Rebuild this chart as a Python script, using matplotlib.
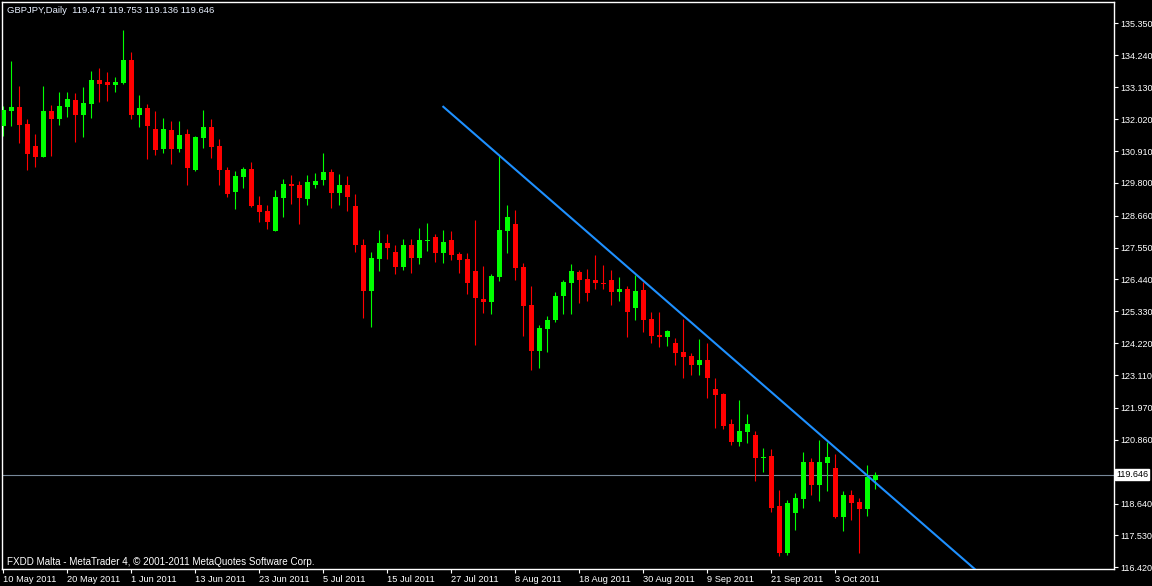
import numpy as np
import matplotlib
matplotlib.use("Agg")
import matplotlib.pyplot as plt
import matplotlib.transforms as mtransforms

plt.rcParams['font.family'] = ['Liberation Sans', 'DejaVu Sans']

opens = [131.78, 132.31, 132.43, 131.85, 131.08, 130.71, 132.30, 132.03, 132.45, 132.69,
         132.17, 132.56, 133.38, 133.31, 133.22, 133.28, 134.08, 132.17, 132.41, 131.68,
         130.99, 131.64, 130.99, 131.50, 130.26, 131.37, 131.75, 131.08, 130.25, 129.49,
         130.02, 130.28, 129.03, 128.82, 128.14, 129.29, 129.76, 129.73, 129.25, 129.74,
         129.91, 130.18, 129.46, 129.73, 129.00, 127.65, 126.05, 127.16, 127.72, 127.39,
         126.88, 127.64, 127.20, 127.79, 127.92, 127.37, 127.81, 127.33, 127.15, 126.73,
         125.76, 125.67, 126.54, 128.14, 128.37, 126.87, 125.55, 123.96, 124.73, 125.04,
         125.87, 126.33, 126.71, 126.46, 126.42, 126.32, 126.42, 126.01, 126.11, 125.46,
         126.07, 125.06, 124.51, 124.45, 124.23, 123.91, 123.78, 123.47, 123.64, 122.63,
         122.45, 121.41, 120.79, 121.14, 121.03, 120.23, 120.29, 118.56, 116.93, 118.32,
         118.81, 120.09, 119.30, 120.06, 119.88, 118.18, 118.95, 118.70, 118.46, 119.471]
highs = [132.48, 134.04, 133.17, 132.02, 131.50, 133.17, 132.51, 132.96, 132.96, 132.93,
         133.14, 133.69, 133.80, 133.66, 133.49, 135.12, 134.36, 132.86, 132.55, 132.30,
         132.06, 131.95, 131.95, 131.68, 131.43, 132.34, 132.02, 131.33, 130.35, 130.21,
         130.35, 130.53, 129.34, 129.03, 129.55, 129.94, 130.08, 129.87, 130.08, 130.14,
         130.84, 130.28, 130.11, 130.04, 129.41, 127.86, 127.41, 128.17, 128.03, 127.64,
         127.85, 127.85, 128.23, 128.40, 128.03, 128.16, 128.13, 127.39, 127.36, 128.51,
         126.91, 126.63, 130.77, 129.03, 128.86, 127.01, 126.21, 124.86, 125.17, 126.01,
         126.43, 126.99, 126.78, 126.80, 127.29, 126.94, 126.77, 126.52, 126.21, 126.59,
         126.35, 125.32, 125.32, 124.68, 124.40, 125.06, 123.88, 124.37, 124.23, 123.01,
         122.49, 121.58, 122.24, 121.76, 121.16, 120.57, 120.54, 119.11, 118.76, 119.01,
         120.43, 120.22, 120.85, 120.78, 120.36, 119.09, 119.12, 118.84, 119.99, 119.753]
lows = [131.43, 131.78, 131.20, 130.25, 130.36, 130.70, 130.75, 131.83, 132.10, 131.23,
        131.41, 132.07, 132.63, 132.66, 132.97, 133.25, 132.03, 131.76, 130.64, 130.78,
        130.85, 130.47, 130.89, 129.74, 130.22, 131.03, 130.68, 129.74, 129.32, 128.90,
        129.63, 128.97, 128.45, 128.21, 128.13, 128.62, 129.08, 128.38, 129.04, 129.63,
        129.74, 128.94, 129.04, 128.83, 127.41, 125.11, 124.80, 126.74, 127.16, 126.64,
        126.78, 126.67, 126.99, 127.44, 127.06, 127.02, 127.13, 126.67, 125.94, 124.17,
        125.28, 125.25, 126.40, 127.37, 126.43, 124.48, 123.29, 123.37, 123.92, 124.97,
        125.25, 125.25, 125.63, 125.70, 126.12, 126.12, 125.56, 125.70, 124.45, 125.04,
        124.62, 124.24, 124.10, 124.13, 123.47, 123.02, 123.12, 123.12, 122.32, 121.28,
        121.24, 120.69, 120.65, 120.76, 119.43, 119.75, 118.36, 116.82, 116.86, 117.73,
        118.50, 118.95, 118.74, 119.09, 118.15, 117.69, 118.08, 116.93, 118.22, 119.136]
closes = [132.34, 132.43, 131.83, 130.81, 130.71, 132.30, 132.03, 132.48, 132.72, 132.17,
          132.58, 133.38, 133.25, 133.22, 133.31, 134.08, 132.17, 132.41, 131.79, 130.96,
          131.68, 130.99, 131.47, 130.33, 131.40, 131.75, 131.06, 130.26, 129.42, 130.04,
          130.28, 129.01, 128.80, 128.45, 129.31, 129.76, 129.70, 129.29, 129.83, 129.87,
          130.18, 129.46, 129.73, 129.32, 127.65, 126.05, 127.20, 127.72, 127.54, 126.88,
          127.64, 127.20, 127.81, 127.81, 127.37, 127.74, 127.29, 127.13, 126.33, 125.80,
          125.67, 126.56, 128.16, 128.61, 126.85, 125.53, 123.96, 124.75, 125.03, 125.87,
          126.36, 126.74, 126.43, 125.98, 126.33, 126.29, 126.01, 126.11, 125.32, 126.04,
          125.04, 124.48, 124.45, 124.65, 123.89, 123.75, 123.47, 123.64, 123.02, 122.42,
          121.35, 120.79, 121.16, 121.41, 120.23, 120.26, 118.49, 116.93, 118.66, 118.84,
          120.09, 119.30, 120.09, 120.26, 118.18, 118.95, 118.67, 118.46, 119.57, 119.646]

date_labels = ["10 May 2011", "20 May 2011", "1 Jun 2011", "13 Jun 2011", "23 Jun 2011",
               "5 Jul 2011", "15 Jul 2011", "27 Jul 2011", "8 Aug 2011", "18 Aug 2011",
               "30 Aug 2011", "9 Sep 2011", "21 Sep 2011", "3 Oct 2011"]
price_ticks = [135.35, 134.24, 133.13, 132.02, 130.91, 129.80, 128.66, 127.55, 126.44,
               125.33, 124.22, 123.11, 121.97, 120.86, 118.64, 117.53, 116.42]

# trend line: anchor bar/price and a second point on it
trend_x = [55, 109]
trend_y = [132.45, 119.37]

o = np.array(opens)
h = np.array(highs)
l = np.array(lows)
c = np.array(closes)
idx = np.arange(len(o))

fig = plt.figure(figsize=(11.52, 5.86), dpi=100, facecolor="black")
ax = fig.add_axes([2.3 / 1152, 1 - 569 / 586, 1112 / 1152, 566.7 / 586], facecolor="black")

up = c >= o
cols = np.where(up, "#00ff00", "#ff0000")
ax.vlines(idx, l, h, colors=cols, linewidth=0.8, zorder=2)
body_lo = np.minimum(o, c)
body_h = np.maximum(np.abs(c - o), 0.03)
ax.bar(idx, body_h, bottom=body_lo, width=0.62, color=cols, linewidth=0, zorder=3)

# ray to the right
slope = (trend_y[1] - trend_y[0]) / (trend_x[1] - trend_x[0])
xr = np.array([trend_x[0], trend_x[0] + 120])
ax.plot(xr, trend_y[0] + slope * (xr - trend_x[0]), color="#1e90ff", linewidth=1.5, zorder=4)

ax.axhline(c[-1], color="#778899", linewidth=0.8, zorder=1)

ax.set_xlim(-0.125, 138.875)
ax.set_ylim(116.361, 136.086)

for s in ax.spines.values():
    s.set_color("white")
    s.set_linewidth(1)

ax.yaxis.tick_right()
ax.set_yticks(price_ticks)
ax.set_yticklabels(["%.3f" % v for v in price_ticks])
ax.set_xticks(idx[::8][:len(date_labels)])
ax.set_xticklabels(date_labels)
ax.tick_params(axis="both", colors="white", labelcolor="white", length=3, width=0.8)
ax.tick_params(axis="x", pad=1, labelsize=6.7)
ax.tick_params(axis="y", pad=1.2, labelsize=6.5)
for lab in ax.get_xticklabels():
    lab.set_horizontalalignment("left")

trans = mtransforms.blended_transform_factory(ax.transAxes, ax.transData)
ax.text(1.0015, c[-1], "%.3f" % c[-1], transform=trans, fontsize=6.5, color="black",
        va="center", ha="left",
        bbox=dict(boxstyle="square,pad=0.15", facecolor="white", edgecolor="white"))

ax.text(0.004, 0.986, "GBPJPY,Daily  %.3f %.3f %.3f %.3f" % (o[-1], h[-1], l[-1], c[-1]),
        transform=ax.transAxes, fontsize=6.8, color="#e8f0ff", va="center", ha="left")
ax.text(0.004, 0.013, "FXDD Malta - MetaTrader 4, \u00a9 2001-2011 MetaQuotes Software Corp.",
        transform=ax.transAxes, fontsize=7.1, color="white", va="center", ha="left")

fig.savefig("out.png", dpi=100, facecolor="black")
